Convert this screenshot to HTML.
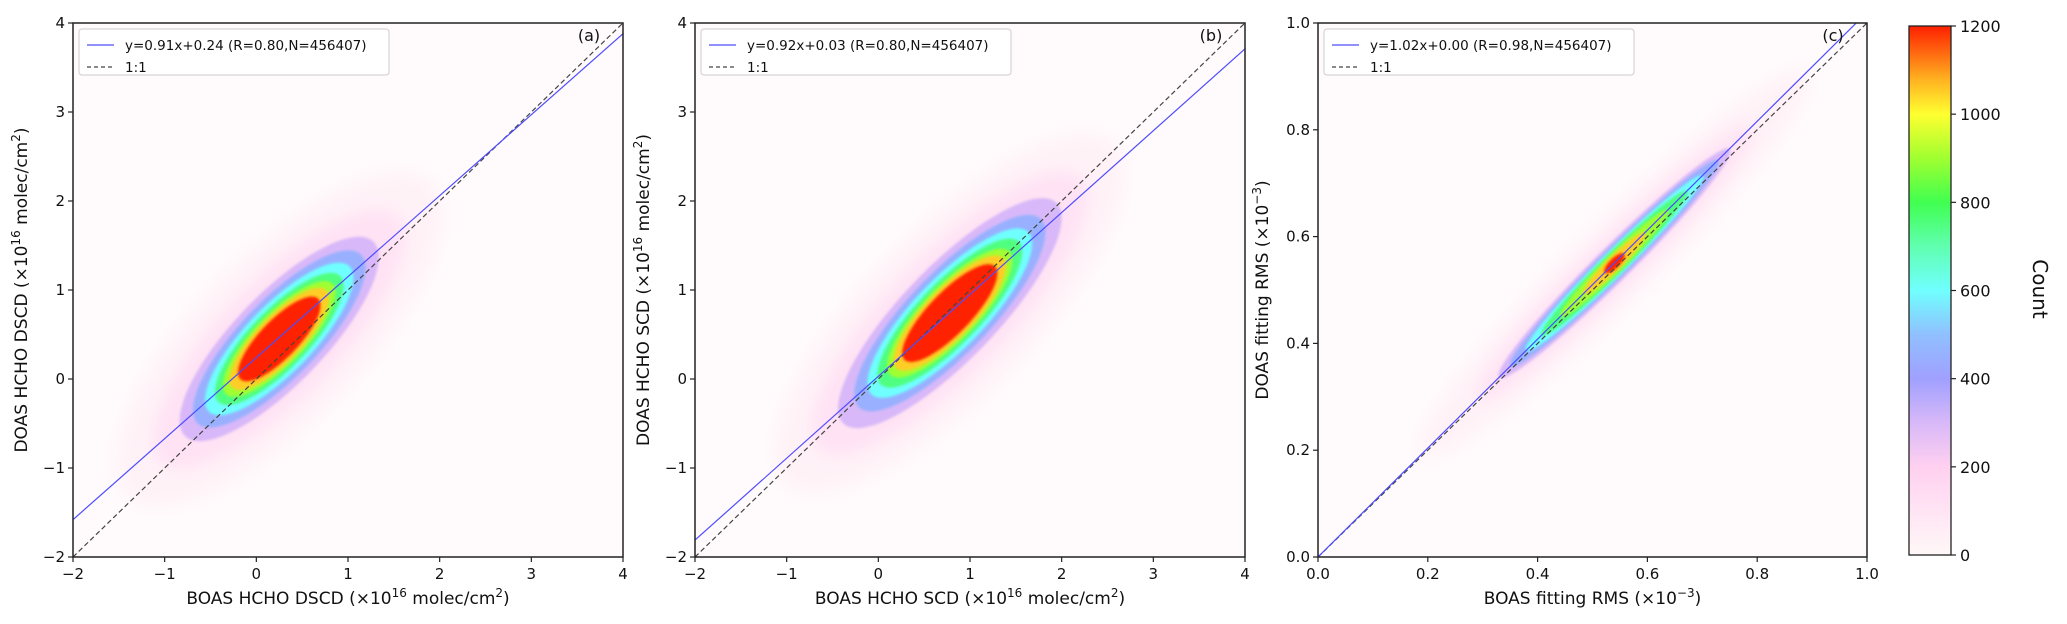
<!DOCTYPE html>
<html><head><meta charset="utf-8">
<style>
html,body{margin:0;padding:0;background:#fff;}
svg{display:block;font-family:"DejaVu Sans","Liberation Sans",sans-serif;}
</style></head>
<body>
<svg id="fig" width="2067" height="624" viewBox="0 0 2067 624" xmlns="http://www.w3.org/2000/svg">
<defs>
<linearGradient id="cbgrad" x1="0" y1="1" x2="0" y2="0"></linearGradient>
<filter id="soft" x="-20%" y="-20%" width="140%" height="140%"><feGaussianBlur stdDeviation="8"/></filter>
<filter id="soft2" x="-20%" y="-20%" width="140%" height="140%"><feGaussianBlur stdDeviation="1.2"/></filter>
</defs>
</svg>
<script>
// ---- data ----
const levelCounts = [30, 110, 300, 450, 600, 750, 900, 1050, 1250];
const aCenter = [0.25, 0.45];
const aMajor = [2.4, 1.9, 1.5, 1.3, 1.12, 0.97, 0.85, 0.75, 0.62];
const aMinor = [0.9, 0.65, 0.5, 0.43, 0.37, 0.32, 0.28, 0.25, 0.21];
const aAngle = [47];
const aFit = [0.91, 0.24];
const bCenter = [0.78, 0.74];
const bMajor = [2.6, 2.1, 1.7, 1.45, 1.25, 1.1, 0.95, 0.85, 0.72];
const bMinor = [0.9, 0.66, 0.52, 0.45, 0.39, 0.34, 0.3, 0.27, 0.23];
const bAngle = [47];
const bFit = [0.92, 0.03];
const cCenter = [0.54, 0.55];
const cMajor = [0.5, 0.36, 0.3, 0.27, 0.23, 0.19, 0.14, 0.08, 0.025];
const cMinor = [0.07, 0.045, 0.032, 0.027, 0.023, 0.02, 0.017, 0.013, 0.009];
const cAngle = [45.5];
const cFit = [1.02, 0.00];
const abTicks = [-2, -1, 0, 1, 2, 3, 4];
const cTicks = [0.0, 0.2, 0.4, 0.6, 0.8, 1.0];
const cbTicks = [0, 200, 400, 600, 800, 1000, 1200];
const cmapVals = [0, 200, 300, 400, 500, 600, 700, 800, 900, 1000, 1080, 1200];
const cmapCols = ['#fff8f8','#ffd0f0','#d8b8f8','#a0a0ff','#90c0ff','#70ffff','#60ffb0','#40ff50','#a0ff30','#ffff30','#ffb020','#ff2000'];

const NS = 'http://www.w3.org/2000/svg';
const svg = document.getElementById('fig');
function mk(tag, attrs, parent){ const e=document.createElementNS(NS,tag); for(const k in attrs) e.setAttribute(k,attrs[k]); (parent||svg).appendChild(e); return e; }
function hex(c){return [parseInt(c.substr(1,2),16),parseInt(c.substr(3,2),16),parseInt(c.substr(5,2),16)];}
function cmap(v){
  if(v>=cmapVals[cmapVals.length-1]) return cmapCols[cmapCols.length-1];
  for(let i=0;i<cmapVals.length-1;i++){
    if(v<=cmapVals[i+1]){const t=(v-cmapVals[i])/(cmapVals[i+1]-cmapVals[i]);const a=hex(cmapCols[i]),b=hex(cmapCols[i+1]);
      return 'rgb('+a.map((x,j)=>Math.round(x+(b[j]-x)*t)).join(',')+')';}
  }
  return cmapCols[0];
}
const grad=document.getElementById('cbgrad');
cmapVals.forEach((v,i)=>{const s=document.createElementNS(NS,'stop');s.setAttribute('offset',(v/1200));s.setAttribute('stop-color',cmapCols[i]);grad.appendChild(s);});

const T=23,B=557;
function sup(t,parts){
  let raised=false;
  parts.forEach(p=>{const ts=document.createElementNS(NS,'tspan');ts.textContent=p[0];
    if(p[1]){ts.setAttribute('font-size','12');ts.setAttribute('dy','-7');raised=true;}
    else if(raised){ts.setAttribute('dy','7');raised=false;}
    t.appendChild(ts);});
}

function panel(key,L,R,xmin,xmax,ticks,tickFmt,center,major,minor,angle,fit,label,xlabParts,ylabParts,ylabX,fitText){
  const g=mk('g',{});
  
  
  const sx=v=>L+(v-xmin)/(xmax-xmin)*(R-L);
  const sy=v=>B-(v-xmin)/(xmax-xmin)*(B-T);
  const clipId='clip'+key;
  const cp=mk('clipPath',{id:clipId},svg.querySelector('defs')); mk('rect',{x:L,y:T,width:R-L,height:B-T},cp);
  const bg=mk('rect',{x:L,y:T,width:R-L,height:B-T,fill:'#fffafc'},g);
  
  
  const hg=mk('g',{'clip-path':'url(#'+clipId+')'},g);
  const th=angle[0]*Math.PI/180;
  for(let i=0;i<levelCounts.length;i++){
    let d='';
    for(let k=0;k<=96;k++){const t=k/96*2*Math.PI;
      const dx=major[i]*Math.cos(t)*Math.cos(th)-minor[i]*Math.sin(t)*Math.sin(th);
      const dy=major[i]*Math.cos(t)*Math.sin(th)+minor[i]*Math.sin(t)*Math.cos(th);
      d+=(k?'L':'M')+sx(center[0]+dx).toFixed(1)+' '+sy(center[1]+dy).toFixed(1);}
    const p=mk('path',{d:d+'Z',fill:cmap(levelCounts[i]),filter:i<2?'url(#soft)':'url(#soft2)'},hg);
    
    
  }
  const l1=mk('line',{x1:sx(xmin),y1:sy(xmin),x2:sx(xmax),y2:sy(xmax),stroke:'#444','stroke-width':1.2,'stroke-dasharray':'5,3'},hg);
  
  
  const lf=mk('line',{x1:sx(xmin),y1:sy(fit[0]*xmin+fit[1]),x2:sx(xmax),y2:sy(fit[0]*xmax+fit[1]),stroke:'#4d4dff','stroke-width':1.2},hg);
  
  
  const fr=mk('rect',{x:L,y:T,width:R-L,height:B-T,fill:'none',stroke:'#222','stroke-width':1.5},g);
  
  
  ticks.forEach(v=>{
    mk('line',{x1:sx(v),y1:B,x2:sx(v),y2:B+5,stroke:'#222','stroke-width':1.2},g);
    const tx=mk('text',{x:sx(v),y:B+22,'text-anchor':'middle','font-size':15,fill:'#111'},g);tx.textContent=tickFmt(v);
    
    
    mk('line',{x1:L-5,y1:sy(v),x2:L,y2:sy(v),stroke:'#222','stroke-width':1.2},g);
    const ty=mk('text',{x:L-8,y:sy(v)+5,'text-anchor':'end','font-size':15,fill:'#111'},g);ty.textContent=tickFmt(v);
    
    
  });
  const xl=mk('text',{x:(L+R)/2,y:604,'text-anchor':'middle','font-size':17,fill:'#111'},g);sup(xl,xlabParts);
  
  
  const yl=mk('text',{x:0,y:0,'text-anchor':'middle','font-size':17,fill:'#111',transform:'translate('+ylabX+','+((T+B)/2)+') rotate(-90)'},g);sup(yl,ylabParts);
  
  
  const pl=mk('text',{x:R-34,y:41,'text-anchor':'middle','font-size':16,fill:'#111'},g);pl.textContent=label;
  
  
  const lg=mk('g',{},g);
  
  
  mk('rect',{x:L+6,y:29,width:310,height:46,rx:3,fill:'#fff','fill-opacity':0.85,stroke:'#ccc'},lg);
  mk('line',{x1:L+14,y1:45,x2:L+41,y2:45,stroke:'#4d4dff','stroke-width':1.2},lg);
  const t1=mk('text',{x:L+52,y:50,'font-size':13.5,fill:'#111'},lg);t1.textContent=fitText;
  
  
  mk('line',{x1:L+14,y1:67,x2:L+41,y2:67,stroke:'#444','stroke-width':1.2,'stroke-dasharray':'4,3'},lg);
  const t2=mk('text',{x:L+52,y:72,'font-size':13.5,fill:'#111'},lg);t2.textContent='1:1';
  
  
}
const fint=v=>(v<0?'\u2212'+Math.abs(v):String(v));
const f1=v=>v.toFixed(1);
panel('a',73,623,-2,4,abTicks,fint,aCenter,aMajor,aMinor,aAngle,aFit,'(a)',
  [['BOAS HCHO DSCD (\u00d710'],['16',1],[' molec/cm'],['2',1],[')']],
  [['DOAS HCHO DSCD (\u00d710'],['16',1],[' molec/cm'],['2',1],[')']],27,'y=0.91x+0.24 (R=0.80,N=456407)');
panel('b',695,1245,-2,4,abTicks,fint,bCenter,bMajor,bMinor,bAngle,bFit,'(b)',
  [['BOAS HCHO SCD (\u00d710'],['16',1],[' molec/cm'],['2',1],[')']],
  [['DOAS HCHO SCD (\u00d710'],['16',1],[' molec/cm'],['2',1],[')']],649,'y=0.92x+0.03 (R=0.80,N=456407)');
panel('c',1318,1867,0,1,cTicks,f1,cCenter,cMajor,cMinor,cAngle,cFit,'(c)',
  [['BOAS fitting RMS (\u00d710'],['\u22123',1],[')']],
  [['DOAS fitting RMS (\u00d710'],['\u22123',1],[')']],1268,'y=1.02x+0.00 (R=0.98,N=456407)');

const cb=mk('g',{});


const CT=26,CB=555,CL=1909,CR=1951;
mk('rect',{x:CL,y:CT,width:CR-CL,height:CB-CT,fill:'url(#cbgrad)',stroke:'#222','stroke-width':1.3},cb);
cbTicks.forEach(v=>{const y=CB-v/1200*(CB-CT);
  mk('line',{x1:CR,y1:y,x2:CR+5,y2:y,stroke:'#222','stroke-width':1.2},cb);
  const t=mk('text',{x:CR+9,y:y+6,'font-size':16,fill:'#111'},cb);t.textContent=String(v);
  
  
});
const ct=mk('text',{x:0,y:0,'text-anchor':'middle','font-size':20,fill:'#111',transform:'translate(2033,289) rotate(90)'},cb);ct.textContent='Count';


</script>
</body></html>
